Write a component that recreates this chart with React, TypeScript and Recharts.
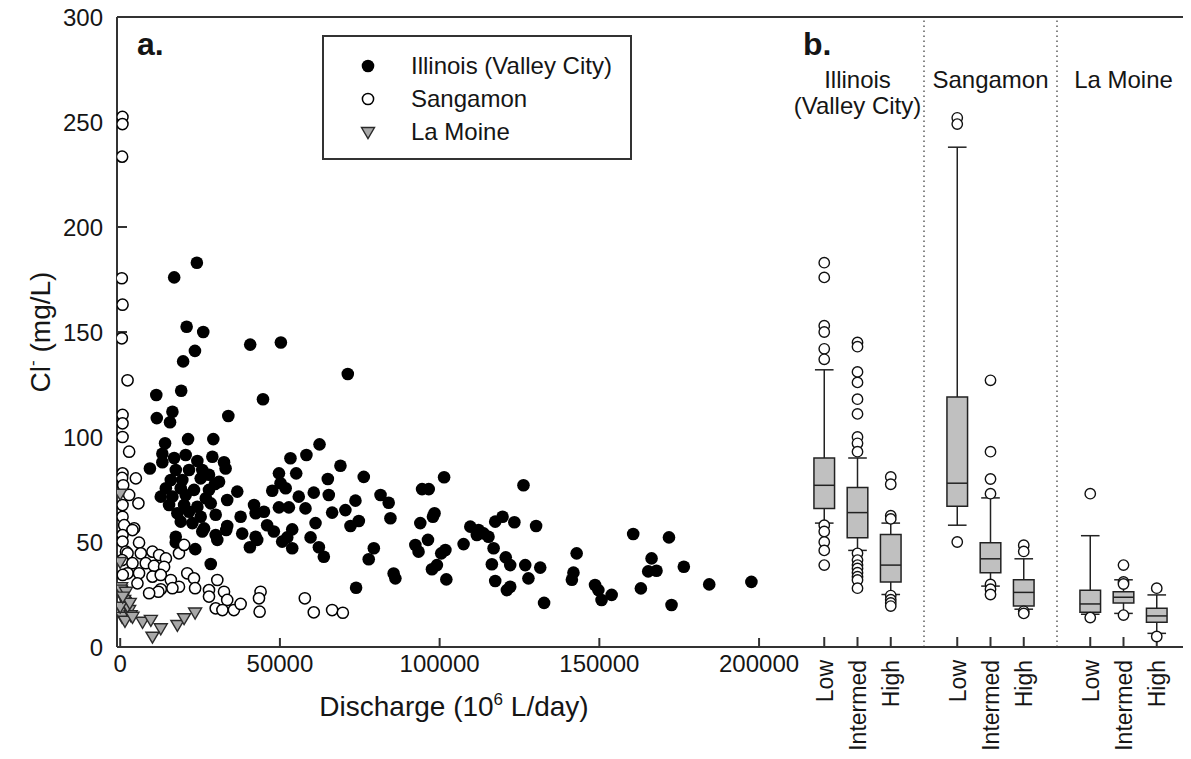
import React from "react";
import {
  Legend,
  ReferenceArea,
  ReferenceLine,
  Scatter,
  ScatterChart,
  XAxis,
  YAxis,
} from "recharts";

const FONT = '"Liberation Sans", Arial, sans-serif';
const INK = "#151515";
const AXIS = "#333";

// panel a: discharge (10^6 L/day) vs chloride (mg/L)
const illinoisQ = [
  24000, 16900, 20800, 26000, 40700, 50300, 23400, 19700, 71250, 11300, 19100, 44700,
  11450, 16350, 15600, 33850, 14050, 21250, 29150, 62400, 58300, 53300, 13200, 9300,
  13200, 16900, 20500, 24150, 28850, 32500, 33000, 25700, 21550, 17400, 15850, 19450,
  25200, 27800, 30950, 14300, 18950, 23100, 27800, 29700, 12700, 16350, 20500, 26800,
  33500, 36650, 15300, 20000, 24150, 28350, 17900, 21550, 25200, 29900, 37700, 41900,
  18950, 22600, 26250, 33500, 38200, 29900, 17400, 42400, 17400, 23500, 25700, 30400,
  33200, 40600, 28350, 68950, 76250, 49700, 55100, 50200, 65000, 47600, 51800, 55900,
  60600, 65300, 81500, 84050, 73650, 42400, 45000, 49700, 52800, 58000, 66350, 70500,
  84600, 61150, 74700, 72100, 46000, 48100, 53850, 52300, 59600, 42900, 50700, 53850,
  62200, 63750, 79400, 77800, 85600, 86150, 73850, 101400, 94500, 96600, 126250, 98400,
  97900, 93950, 119700, 117400, 123400, 130200, 109600, 112200, 113750, 115300, 111650, 96350,
  107500, 116900, 92400, 93400, 101800, 100500, 120700, 122100, 116350, 126800, 131500, 99150,
  97600, 102100, 117400, 127800, 121050, 122100, 132700, 142900, 141900, 141400, 160600, 171800,
  166350, 165300, 167900, 176450, 148650, 149700, 153850, 150700, 163000, 172600, 184400, 197600,
];
const illinoisCl = [
  183, 176, 152.5, 150, 144, 145, 141, 136, 130, 120, 122, 118,
  109, 112, 107, 110, 97, 99, 99, 96.5, 91.4, 89.9, 92, 85,
  88, 90, 91.4, 88.6, 90.6, 88, 85, 84.3, 84.3, 84.3, 79.5, 79.5,
  80.3, 82, 78.7, 75.6, 75.6, 74.8, 74.8, 77.6, 71.6, 71.6, 72.4, 70.8,
  70, 74, 67.6, 67.6, 66.8, 68.4, 63.7, 64.4, 62, 63, 62, 67.6,
  59.7, 59, 56.5, 57.6, 54, 53.3, 52.5, 52.5, 49.8, 46.6, 55, 51,
  55.7, 47.5, 39.5, 86.3, 81, 82.7, 82.7, 78, 80, 74.4, 75.6, 71.6,
  73.5, 72.4, 72.4, 68.7, 69.7, 63.7, 64.4, 66.5, 66.5, 66, 64, 65.2,
  61.3, 59, 60, 57.6, 58, 55, 56, 52.2, 52.2, 51, 50.2, 47,
  47.5, 43, 47, 41.8, 35, 32.7, 28.2, 80.8, 75.2, 75.2, 77, 63.7,
  62, 59, 62, 59.7, 59.4, 57.6, 57.3, 55.7, 54.1, 52.5, 53.3, 51,
  49, 47, 48.6, 45.4, 46.2, 44.6, 42.7, 39, 39.4, 39, 37.8, 39,
  37, 32.2, 31.4, 32.7, 27.1, 28.7, 21, 44.6, 35.4, 32, 53.8, 52.2,
  42.2, 36, 36.3, 38.2, 29.5, 27.1, 24.8, 22.4, 27.9, 20, 29.8, 31,
];

const sangamonQ = [
  700, 700, 600, 500, 730, 500, 2300, 730, 730, 730, 2800, 730,
  600, 4900, 940, 2800, 5700, 730, 730, 1250, 4375, 3850, 730, 730,
  5900, 1800, 2300, 6450, 10100, 12200, 18400, 20000, 14300, 600, 3850, 8000,
  10600, 13750, 2300, 5900, 800, 10100, 12700, 15850, 21000, 23100, 5400, 18400,
  23450, 16350, 12700, 1000, 11950, 9060, 1800, 500, 27800, 27800, 30400, 32500,
  33500, 29900, 32000, 35600, 37700, 43950, 43450, 43650, 57800, 60600, 66350, 69700,
];
const sangamonCl = [
  252.4, 249, 233.5, 175.6, 163, 147, 127, 110.5, 106.5, 100, 93, 82.7,
  80.5, 80.3, 77, 72.4, 68.4, 67.6, 62, 58, 56.5, 55.7, 53.3, 50.2,
  49.7, 45.4, 44.6, 44.6, 45.4, 43.8, 44.6, 48.6, 42.2, 41.4, 39.9, 39.9,
  38.6, 38.2, 35.1, 35.1, 34.3, 33.5, 34.3, 31.9, 35.1, 32.7, 30.3, 28.7,
  28, 28, 27.5, 27, 26.3, 25.6, 22.4, 16.7, 27.1, 24, 31.9, 26.3,
  22.4, 18.4, 17.6, 17.6, 20.5, 26.3, 23.2, 16.8, 23.2, 16.5, 17.6, 16.3,
];

const laMoineQ = [
  0, 0, 300, 200, 1250, 500, 2800, 600, 3300, 1800, 2300, 0,
  3000, 7000, 9600, 12700, 10100, 17900, 20000, 23450, 800, 1500, 3850,
];
const laMoineCl = [
  73, 40.5, 28.5, 27.3, 22.4, 17.6, 17.6, 14.4, 15.2, 26.3, 19.5, 19.2,
  21, 12, 12.9, 8.9, 4.9, 10.5, 13.7, 16.4, 24, 12.5, 14.4,
];

const seriesNames = ["Illinois (Valley City)", "Sangamon", "La Moine"];
const xTicks = [0, 50000, 100000, 150000, 200000];
const yTicks = [0, 50, 100, 150, 200, 250, 300];

// panel b: chloride by flow class
const riverTitles = [["Illinois", "(Valley City)"], ["Sangamon"], ["La Moine"]];
const riverCenter = [2, 6, 10];
const boxPos = [1, 2, 3, 5, 6, 7, 9, 10, 11];
const boxLabels = ["Low", "Intermed", "High", "Low", "Intermed", "High", "Low", "Intermed", "High"];
const whiskerLo = [59, 46, 25, 58, 29, 18, 15.6, 16, 6.5];
const q1 = [66, 52, 31, 67, 35.4, 19.5, 16.5, 21, 11.8];
const median = [77, 64, 39, 78, 42, 26, 20.5, 23.7, 14.8];
const q3 = [90, 76, 53.6, 119, 49.7, 32, 27, 26.3, 18.4];
const whiskerHi = [132, 90, 59, 238, 71, 42, 53, 32, 24.8];
const outliers = [
  [183, 176, 153, 150, 142, 137, 58, 55, 50, 46, 39],
  [145, 143, 131, 126, 118, 111, 100, 97, 93, 44.6, 41.4, 39, 37.4, 35.4, 33.5, 31.9, 28],
  [81, 77.5, 62.5, 61, 24.5, 22.5, 21, 19.5],
  [252, 249, 50],
  [127, 93, 80, 73, 29.8, 27.5, 25],
  [48.5, 45.5, 17, 16],
  [73, 14],
  [39, 31, 30, 15.2],
  [28, 5],
];

const BOX_HALF = 0.31;
const CAP_HALF = 0.28;

const pairs = (xs: number[], ys: number[]) => xs.map((x, i) => ({ x, y: ys[i] }));
const illinoisData = pairs(illinoisQ, illinoisCl);
const sangamonData = pairs(sangamonQ, sangamonCl);
const laMoineData = pairs(laMoineQ, laMoineCl);
const outlierData = boxPos.flatMap((x, i) => outliers[i].map((y) => ({ x, y })));

const Dot = (p: any) => <circle cx={p.cx} cy={p.cy} r={6.3} fill="#000" />;
const Ring = (p: any) => (
  <circle cx={p.cx} cy={p.cy} r={5.6} fill="#fff" stroke="#000" strokeWidth={1.5} />
);
const SmallRing = (p: any) => (
  <circle cx={p.cx} cy={p.cy} r={5.2} fill="#fff" stroke="#111" strokeWidth={1.4} />
);
const Tri = (p: any) => {
  const { cx, cy } = p;
  return (
    <path
      d={`M${cx - 6.5},${cy - 4.5} L${cx + 6.5},${cy - 4.5} L${cx},${cy + 6.5} Z`}
      fill="#a8a8a8"
      stroke="#2a2a2a"
      strokeWidth={1.4}
    />
  );
};

const markers = [
  <circle cx={10} cy={10} r={6.3} fill="#000" />,
  <circle cx={10} cy={10} r={5.6} fill="#fff" stroke="#000" strokeWidth={1.5} />,
  <path d="M3.5,5.5 L16.5,5.5 L10,16.5 Z" fill="#a8a8a8" stroke="#2a2a2a" strokeWidth={1.4} />,
];

const LegendBox = () => (
  <div
    style={{
      border: `2px solid ${AXIS}`,
      background: "#fff",
      padding: "12px 18px 10px 34px",
      fontFamily: FONT,
      fontSize: 24,
      color: INK,
      whiteSpace: "nowrap",
    }}
  >
    {seriesNames.map((name, i) => (
      <div key={name} style={{ display: "flex", alignItems: "center", height: 33 }}>
        <svg width={20} height={20} style={{ marginRight: 33 }}>
          {markers[i]}
        </svg>
        <span>{name}</span>
      </div>
    ))}
  </div>
);

const XTitle = ({ viewBox }: any) => {
  const vb = viewBox || { x: 117, y: 647, width: 674, height: 112 };
  const cx = vb.x + vb.width / 2;
  return (
    <text x={cx} y={vb.y + 69} textAnchor="middle" fontSize={28} fontFamily={FONT} fill={INK}>
      Discharge (10
      <tspan dy={-11} fontSize={17}>6</tspan>
      <tspan dy={11}> L/day)</tspan>
    </text>
  );
};

const YTitle = ({ viewBox }: any) => {
  const vb = viewBox || { x: 0, y: 17, width: 117, height: 630 };
  const cx = 40;
  const cy = vb.y + vb.height / 2;
  return (
    <text
      x={cx}
      y={cy}
      transform={`rotate(-90 ${cx} ${cy})`}
      textAnchor="middle"
      dy="0.35em"
      fontSize={28}
      fontFamily={FONT}
      fill={INK}
    >
      Cl
      <tspan dy={-12} fontSize={17}>-</tspan>
      <tspan dy={12}> (mg/L)</tspan>
    </text>
  );
};

const BoxTick = (p: any) => {
  const label = boxLabels[boxPos.indexOf(p.payload.value)];
  return (
    <text
      x={p.x}
      y={p.y}
      transform={`rotate(-90 ${p.x} ${p.y})`}
      textAnchor="end"
      dy="0.36em"
      fontSize={23}
      fontFamily={FONT}
      fill={INK}
    >
      {label}
    </text>
  );
};

const tickFont = { fill: INK, fontSize: 24, fontFamily: FONT };
const axisLine = { stroke: AXIS, strokeWidth: 2 };
const blank = () => "";

export default function App() {
  const boxStroke = "#222";
  return (
    <div style={{ position: "relative", width: 1191, height: 759, margin: "-8px 0 0 -8px", background: "#fff" }}>
      <div style={{ position: "absolute", left: 0, top: 0 }}>
        <ScatterChart width={1191} height={759} margin={{ top: 17, right: 400, bottom: 0, left: 0 }}>
          <XAxis
            type="number"
            dataKey="x"
            domain={[-1000, 210000]}
            ticks={xTicks}
            interval={0}
            allowDataOverflow
            height={112}
            tickSize={-9}
            tickMargin={17}
            axisLine={axisLine}
            tickLine={axisLine}
            tick={tickFont}
            label={<XTitle />}
          />
          <YAxis
            type="number"
            dataKey="y"
            domain={[0, 300]}
            ticks={yTicks}
            interval={0}
            allowDataOverflow
            width={117}
            tickSize={-10}
            tickMargin={24}
            axisLine={axisLine}
            tickLine={axisLine}
            tick={tickFont}
            label={<YTitle />}
          />
          <YAxis
            yAxisId="r"
            orientation="right"
            type="number"
            domain={[0, 300]}
            ticks={yTicks}
            interval={0}
            width={0}
            tickSize={-9}
            axisLine={axisLine}
            tickLine={axisLine}
            tickFormatter={blank}
          />
          <ReferenceLine y={300} stroke={AXIS} strokeWidth={2} ifOverflow="visible" />
          <Scatter name={seriesNames[0]} data={illinoisData} shape={Dot} isAnimationActive={false} />
          <Scatter name={seriesNames[1]} data={sangamonData} shape={Ring} isAnimationActive={false} />
          <Scatter name={seriesNames[2]} data={laMoineData} shape={Tri} isAnimationActive={false} />
          <Legend
            layout="horizontal"
            verticalAlign="middle"
            align="center"
            wrapperStyle={{ left: 322, top: 35, width: "auto", height: "auto" }}
            content={<LegendBox />}
          />
          <text x={137} y={55} fontSize={32} fontWeight="bold" fontFamily={FONT} fill={INK}>
            a.
          </text>
        </ScatterChart>
      </div>
      <div style={{ position: "absolute", left: 0, top: 0 }}>
        <ScatterChart width={1191} height={759} margin={{ top: 17, right: 1, bottom: 0, left: 791 }}>
          <XAxis
            type="number"
            dataKey="x"
            domain={[0, 12]}
            ticks={boxPos}
            interval={0}
            height={112}
            tickSize={-10}
            tickMargin={23}
            axisLine={axisLine}
            tickLine={axisLine}
            tick={<BoxTick />}
          />
          <YAxis
            type="number"
            dataKey="y"
            domain={[0, 300]}
            ticks={yTicks}
            interval={0}
            width={0}
            tickSize={-10}
            axisLine={axisLine}
            tickLine={axisLine}
            tickFormatter={blank}
          />
          <YAxis
            yAxisId="r"
            orientation="right"
            type="number"
            domain={[0, 300]}
            ticks={yTicks}
            interval={0}
            width={0}
            tickSize={-10}
            axisLine={axisLine}
            tickLine={axisLine}
            tickFormatter={blank}
          />
          <ReferenceLine y={300} stroke={AXIS} strokeWidth={2} ifOverflow="visible" />
          <ReferenceLine x={4} stroke="#444" strokeWidth={1.3} strokeDasharray="1.5 3.5" />
          <ReferenceLine x={8} stroke="#444" strokeWidth={1.3} strokeDasharray="1.5 3.5" />
          {boxPos.map((x, i) => (
            <ReferenceLine
              key={`wu${i}`}
              segment={[{ x, y: q3[i] }, { x, y: whiskerHi[i] }]}
              stroke={boxStroke}
              strokeWidth={1.5}
            />
          ))}
          {boxPos.map((x, i) => (
            <ReferenceLine
              key={`wl${i}`}
              segment={[{ x, y: whiskerLo[i] }, { x, y: q1[i] }]}
              stroke={boxStroke}
              strokeWidth={1.5}
            />
          ))}
          {boxPos.map((x, i) => (
            <ReferenceLine
              key={`cu${i}`}
              segment={[{ x: x - CAP_HALF, y: whiskerHi[i] }, { x: x + CAP_HALF, y: whiskerHi[i] }]}
              stroke={boxStroke}
              strokeWidth={1.5}
            />
          ))}
          {boxPos.map((x, i) => (
            <ReferenceLine
              key={`cl${i}`}
              segment={[{ x: x - CAP_HALF, y: whiskerLo[i] }, { x: x + CAP_HALF, y: whiskerLo[i] }]}
              stroke={boxStroke}
              strokeWidth={1.5}
            />
          ))}
          {boxPos.map((x, i) => (
            <ReferenceArea
              key={`bx${i}`}
              x1={x - BOX_HALF}
              x2={x + BOX_HALF}
              y1={q1[i]}
              y2={q3[i]}
              fill="#c0c0c0"
              fillOpacity={1}
              stroke={boxStroke}
              strokeWidth={1.5}
            />
          ))}
          {boxPos.map((x, i) => (
            <ReferenceLine
              key={`md${i}`}
              segment={[{ x: x - BOX_HALF, y: median[i] }, { x: x + BOX_HALF, y: median[i] }]}
              stroke={boxStroke}
              strokeWidth={1.5}
            />
          ))}
          <Scatter data={outlierData} shape={SmallRing} isAnimationActive={false} />
          <text x={803} y={55} fontSize={32} fontWeight="bold" fontFamily={FONT} fill={INK}>
            b.
          </text>
          {riverTitles.map((lines, g) =>
            lines.map((line, j) => (
              <text
                key={`${g}-${j}`}
                x={791 + (riverCenter[g] * 399) / 12}
                y={88 + j * 26}
                textAnchor="middle"
                fontSize={24}
                fontFamily={FONT}
                fill={INK}
              >
                {line}
              </text>
            ))
          )}
        </ScatterChart>
      </div>
    </div>
  );
}
